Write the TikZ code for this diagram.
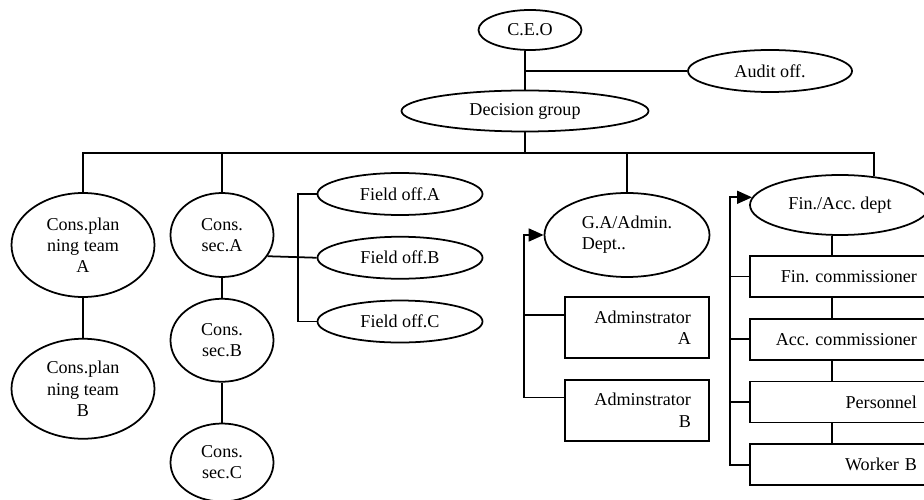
\documentclass[tikz,border=0pt]{standalone}
\usepackage{fontspec}
\setmainfont{Liberation Serif}
\usepackage{tikz}
\usetikzlibrary{shapes.geometric,arrows.meta,positioning}

\begin{document}
\begin{tikzpicture}[font=\fontsize{10.3}{12}\selectfont\frenchspacing,line width=1pt,node distance=0.4cm,
  oval/.style={draw,ellipse,inner sep=0pt,align=center},
  box/.style={draw,rectangle,inner sep=0pt,align=right},
  tip/.style={-{Triangle[length=0.3cm,width=0.26cm]}}]
\useasboundingbox (0,0) rectangle (18.48,-10);
\node[oval,minimum width=2.06cm,minimum height=0.8cm] (ceo) at (10.6,-0.6) {C.E.O};
\node[oval,minimum width=4.94cm,minimum height=0.82cm] (dec) at (10.5,-2.22) {Decision group};
\node[oval,minimum width=3.28cm,minimum height=0.84cm] (aud) at (15.4,-1.42) {Audit off.};
\coordinate (bus) at (10.5,-3.06);
\node[oval,minimum width=2.86cm,minimum height=2.08cm] (cpa) at (1.66,-4.9) {Cons.plan\\ning team\\A};
\node[oval,minimum width=2.86cm,minimum height=2.0cm,below=0.8cm of cpa] (cpb) {Cons.plan\\ning team\\B};
\node[oval,minimum width=2.06cm,minimum height=1.68cm] (csa) at (4.44,-4.7) {Cons.\\sec.A};
\node[oval,minimum width=2.06cm,minimum height=1.66cm,below=of csa] (csb) {Cons.\\sec.B};
\node[oval,minimum width=2.06cm,minimum height=1.56cm,below=0.8cm of csb] (csc) {Cons.\\sec.C};
\node[oval,minimum width=3.3cm,minimum height=0.84cm] (fa) at (8.0,-3.88) {Field off.A};
\node[oval,minimum width=3.3cm,minimum height=0.84cm,below=of fa] (fb) {Field off.B};
\node[oval,minimum width=3.3cm,minimum height=0.84cm,below=of fb] (fc) {Field off.C};
\coordinate (fbar) at (5.96,0);
\node[oval,minimum width=3.3cm,minimum height=1.68cm,align=left] (ga) at (12.54,-4.7) {G.A/Admin.\\Dept..};
\node[box,minimum width=2.88cm,minimum height=1.22cm,text width=2.16cm] (ada) at (12.74,-6.55) {Adminstrator\\A};
\node[box,minimum width=2.88cm,minimum height=1.22cm,text width=2.16cm,below=of ada] (adb) {Adminstrator\\B};
\coordinate (gbar) at (10.48,0);
\node[oval,minimum width=3.6cm,minimum height=1.2cm] (fin) at (16.8,-4.1) {Fin./Acc. dept};
\node[box,minimum width=3.6cm,minimum height=0.82cm,text width=3.08cm] (fc1) at (16.8,-5.53) {Fin. commissioner};
\node[box,minimum width=3.6cm,minimum height=0.82cm,text width=3.08cm,below=of fc1] (fc2) {Acc. commissioner};
\node[box,minimum width=3.6cm,minimum height=0.82cm,text width=3.08cm,below=of fc2] (fc3) {Personnel};
\node[box,minimum width=3.6cm,minimum height=0.82cm,text width=3.08cm,below=of fc3] (fc4) {Worker B};
\coordinate (finbar) at (14.6,0);
\draw (dec.north |- ceo.south) -- (dec.north);
\draw (dec.north |- aud.west) -- (aud.west);
\draw (dec.south) -- (bus);
\draw (cpa.north) |- (bus) -| (fin.40);
\draw (csa.north) -- (csa.north |- bus);
\draw (ga.north) -- (ga.north |- bus);
\draw (cpa) -- (cpb);
\draw (csa) -- (csb);
\draw (csb) -- (csc);
\draw (csa.-25) -- (fb.west);
\draw (fa.west) -| (fbar |- fc.west) -- (fc.west);
\draw[tip] (adb.170) -| (gbar |- ga.west) -- (ga.west);
\draw (ada.170) -- (gbar |- ada.170);
\draw[tip] (fc4.west) -| (finbar |- fin.175) -- (fin.175);
\foreach \b in {fc1,fc2,fc3}
  \draw (\b.west) -- (finbar |- \b.west);
\draw ([xshift=-0.16cm]fin.south) -- ([xshift=-0.16cm]fc1.north);
\foreach \u/\l in {fc1/fc2,fc2/fc3,fc3/fc4}
  \draw ([xshift=-0.16cm]\u.south) -- ([xshift=-0.16cm]\l.north);
\end{tikzpicture}
\end{document}
